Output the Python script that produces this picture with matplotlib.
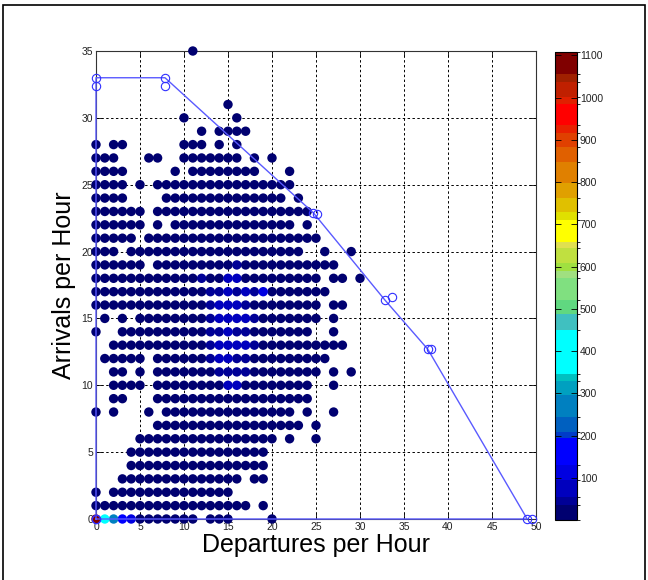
import numpy as np
import matplotlib.pyplot as plt
from matplotlib.colors import ListedColormap, BoundaryNorm
from matplotlib.patches import Rectangle

plt.rcParams['font.family'] = ['Liberation Sans', 'DejaVu Sans']

# occupied (departures, arrivals) cells, one entry per arrivals row
arrivals = list(range(35, -1, -1))
departures = [
    "11", "", "", "", "15", "10,16", "12,14-17", "0,2,3,10-12,14,16",
    "0-2,6,7,10-16,18,20", "0-3,9,11-18,22", "0-3,5,7-22", "0-3,8-21,23",
    "0-5,7-24", "0-5,7,9-22,24", "0-4,6-25", "0-2,4-23,26,29", "0-5,7-27",
    "0-25,27,28,30", "0-26", "0-25,27,28", "1,3,5-25,27", "0,3-24,27",
    "2-28", "1-5,7-26", "2,3,5,7-25,27,29", "2-5,7-24,27", "2,3,7-24",
    "0,2,6,8-22,24,27", "7-23,25", "5-20,22,25", "4-19", "4-19",
    "3-16,18,19", "0,2-15", "0-17,19", "0-11,13-15,20",
]
base_count = 15

# cells with higher counts: (departures, arrivals, count)
hot_x = [0, 1, 2, 3, 4,
         16, 12, 15, 16,
         13, 14, 15, 16, 17, 18, 19,
         13, 14, 15, 16, 17,
         13, 14, 15, 16, 17, 18,
         13, 14, 15, 16, 17,
         13, 14, 15, 16, 17, 18,
         13, 14, 15, 16, 17,
         14, 15, 16, 17,
         15, 16]
hot_y = [0, 0, 0, 0, 0,
         19, 18, 18, 18,
         17, 17, 17, 17, 17, 17, 17,
         16, 16, 16, 16, 16,
         15, 15, 15, 15, 15, 15,
         14, 14, 14, 14, 14,
         13, 13, 13, 13, 13, 13,
         12, 12, 12, 12, 12,
         11, 11, 11, 11,
         10, 10]
hot_c = [1080, 400, 270, 150, 110,
         45, 45, 70, 70,
         45, 45, 70, 45, 70, 45, 100,
         45, 70, 70, 70, 45,
         45, 70, 70, 70, 70, 45,
         45, 45, 70, 45, 45,
         45, 70, 70, 70, 70, 45,
         45, 70, 70, 45, 45,
         45, 45, 45, 45,
         70, 70]

# capacity frontier
front_x = [0, 0, 7.84, 24.7, 32.8, 37.7, 49.0, 0]
front_y = [0, 33, 33, 22.9, 16.4, 12.7, 0, 0]
front2_x = [0, 7.84, 25.1, 33.6, 38.1, 49.6]
front2_y = [32.4, 32.4, 22.8, 16.6, 12.7, 0]

# colour bands
bounds = [0, 35, 55, 95, 130, 195, 208, 244, 295, 328, 346, 450, 488, 521, 573,
          590, 608, 643, 659, 710, 730, 763, 797, 848, 883, 917, 935, 986, 1002,
          1037, 1057, 1108]
band_rgb = [(0, 0, 112), (0, 0, 150), (0, 0, 190), (0, 0, 225), (0, 0, 255),
            (0, 60, 200), (0, 96, 192), (0, 128, 192), (0, 160, 192), (0, 192, 192),
            (0, 255, 255), (64, 192, 192), (96, 216, 128), (128, 224, 128),
            (160, 224, 128), (160, 224, 64), (192, 224, 64), (224, 224, 80),
            (255, 255, 0), (224, 224, 0), (224, 192, 0), (224, 160, 0),
            (224, 128, 0), (224, 96, 0), (224, 64, 0), (232, 32, 0), (255, 0, 0),
            (224, 32, 0), (192, 32, 0), (160, 32, 0), (128, 0, 0)]
cmap = ListedColormap([(r / 255, g / 255, b / 255) for r, g, b in band_rgb])
norm = BoundaryNorm(bounds, cmap.N)


def expand(runs):
    out = []
    for part in runs.split(","):
        if not part:
            continue
        if "-" in part:
            a, b = part.split("-")
            out.extend(range(int(a), int(b) + 1))
        else:
            out.append(int(part))
    return out


counts = {}
for yy, runs in zip(arrivals, departures):
    for xx in expand(runs):
        counts[(xx, yy)] = base_count
for xx, yy, cc in zip(hot_x, hot_y, hot_c):
    counts[(xx, yy)] = cc

xs = np.array([k[0] for k in counts])
ys = np.array([k[1] for k in counts])
cs = np.array(list(counts.values()))
order = np.argsort(cs)

fig = plt.figure(figsize=(6.48, 5.80), dpi=100)
fig.patches.append(Rectangle((3 / 648, -0.01), 642 / 648, 1.0 - 5 / 580 + 0.01,
                             transform=fig.transFigure, fill=False,
                             edgecolor='k', linewidth=1.2))

ax = fig.add_axes([96 / 648, 1 - 519 / 580, 440 / 648, 468 / 580])
ax.set_axisbelow(True)
ax.grid(True, color='k', linestyle=(0, (2.5, 2.5)), linewidth=0.7)

sc = ax.scatter(xs[order], ys[order], c=cs[order], cmap=cmap, norm=norm,
                s=46, edgecolors='none', clip_on=False, zorder=3)

ax.plot(front_x, front_y, color='#5a5aff', linewidth=1.0, marker='o',
        markersize=6, markerfacecolor='none', markeredgecolor='#3030ff',
        markeredgewidth=0.8, clip_on=False, zorder=4)
ax.plot(front2_x, front2_y, linestyle='none', marker='o', markersize=6,
        markerfacecolor='none', markeredgecolor='#3030ff', markeredgewidth=0.8,
        clip_on=False, zorder=4)

ax.set_xlim(0, 50)
ax.set_ylim(0, 35)
ax.set_xticks(range(0, 51, 5))
ax.set_yticks(range(0, 36, 5))
ax.tick_params(direction='in', top=True, right=True, length=4, width=0.6,
               labelsize=7.5, labelcolor='#222222', pad=2)
for sp in ax.spines.values():
    sp.set_linewidth(0.8)
    sp.set_color('#333333')

ax.set_xlabel('Departures per Hour', fontsize=18, labelpad=1)
ax.set_ylabel('Arrivals per Hour', fontsize=18, labelpad=4)

cax = fig.add_axes([555 / 648, 1 - 520 / 580, 22 / 648, 468 / 580])
cb = fig.colorbar(sc, cax=cax, spacing='proportional',
                  ticks=range(100, 1101, 100))
cb.outline.set_linewidth(0.8)
cax.tick_params(direction='in', left=True, right=True, length=4, width=0.6,
                labelsize=7.5, labelcolor='#222222', pad=2)

fig.savefig('out.png', dpi=100)
